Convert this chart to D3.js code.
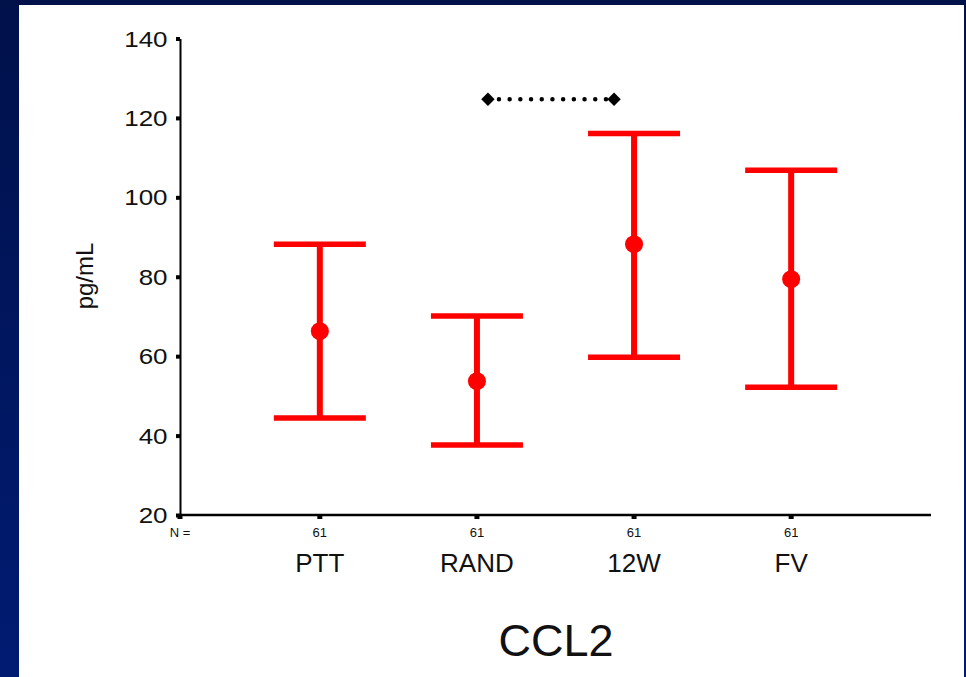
<!DOCTYPE html>
<html>
<head>
<meta charset="utf-8">
<script src="https://cdn.jsdelivr.net/npm/d3@7"></script>
<style>
  html, body { margin: 0; padding: 0; background: #001450; }
  svg { display: block; }
</style>
</head>
<body>
<script>
const categories = ["PTT", "RAND", "12W", "FV"];
const nValues = [61, 61, 61, 61];
const means = [66.3, 53.7, 88.2, 79.4];
const upper = [88.2, 70.1, 116.1, 106.8];
const lower = [44.4, 37.6, 59.7, 52.2];
const yTicks = [20, 40, 60, 80, 100, 120, 140];
const sigPair = ["RAND", "12W"];
const sigLevel = 124.7;
const yTitle = "pg/mL";
const chartTitle = "CCL2";

const W = 966, H = 677;
const svg = d3.select("body").append("svg").attr("width", W).attr("height", H);

const defs = svg.append("defs");
const grad = defs.append("linearGradient").attr("id", "bg").attr("x1", 0).attr("y1", 0).attr("x2", 0).attr("y2", 1);
grad.append("stop").attr("offset", "0%").attr("stop-color", "#00114a");
grad.append("stop").attr("offset", "100%").attr("stop-color", "#001b72");
svg.append("rect").attr("width", W).attr("height", H).attr("fill", "url(#bg)");
svg.append("rect").attr("x", 19).attr("y", 5).attr("width", 945).attr("height", H - 5).attr("fill", "#ffffff");

const x = d3.scalePoint().domain(categories).range([180, 931]).padding(0.89);
const y = d3.scaleLinear().domain([20, 140]).range([515, 38.5]);

const font = "Arial, 'Liberation Sans', sans-serif";

// Y axis
const yAxis = svg.append("g").attr("transform", "translate(180,0)")
  .call(d3.axisLeft(y).tickValues(yTicks).tickSize(4).tickSizeOuter(0).tickFormat(() => ""));
yAxis.select(".domain").attr("stroke", "#000").attr("stroke-width", 2);
yAxis.selectAll(".tick line").attr("stroke", "#000").attr("stroke-width", 4);
// tick labels (slightly wide, as in the reference)
svg.selectAll(".yl").data(yTicks).enter().append("text")
  .attr("transform", d => `translate(167.5,${y(d) + 8}) scale(1.18,1)`)
  .attr("text-anchor", "end").attr("font-family", font).attr("font-size", 22).attr("fill", "#111")
  .text(d => d);

// X axis line
svg.append("line").attr("x1", 180).attr("x2", 931).attr("y1", y(20)).attr("y2", y(20))
  .attr("stroke", "#000").attr("stroke-width", 2.5);
// x ticks
const xTickPos = [180].concat(categories.map(c => x(c)));
svg.selectAll(".xt").data(xTickPos).enter().append("rect")
  .attr("x", d => d - 2.5).attr("y", y(20)).attr("width", 5).attr("height", 4).attr("fill", "#000");

// N labels
svg.append("text").attr("x", 180).attr("y", 537).attr("text-anchor", "middle")
  .attr("font-family", font).attr("font-size", 13).attr("fill", "#111").text("N =");
svg.selectAll(".nl").data(categories).enter().append("text")
  .attr("x", c => x(c)).attr("y", 537).attr("text-anchor", "middle")
  .attr("font-family", font).attr("font-size", 13).attr("fill", "#111")
  .text((c, i) => nValues[i]);

// category labels
svg.selectAll(".cl").data(categories).enter().append("text")
  .attr("x", c => x(c)).attr("y", 572).attr("text-anchor", "middle")
  .attr("font-family", font).attr("font-size", 26).attr("fill", "#111").text(c => c);

// y title
svg.append("text").attr("transform", "translate(93,276) rotate(-90)")
  .attr("text-anchor", "middle").attr("font-family", font).attr("font-size", 24).attr("fill", "#111")
  .text(yTitle);

// chart title
svg.append("text").attr("x", 556).attr("y", 656).attr("text-anchor", "middle")
  .attr("font-family", font).attr("font-size", 45).attr("fill", "#111").text(chartTitle);

// error bars
const red = "#ff0000";
const g = svg.append("g");
categories.forEach((c, i) => {
  const cx = x(c);
  g.append("line").attr("x1", cx).attr("x2", cx).attr("y1", y(upper[i])).attr("y2", y(lower[i]))
    .attr("stroke", red).attr("stroke-width", 6);
  [upper[i], lower[i]].forEach(v => {
    g.append("line").attr("x1", cx - 46).attr("x2", cx + 46).attr("y1", y(v)).attr("y2", y(v))
      .attr("stroke", red).attr("stroke-width", 5.5);
  });
  g.append("circle").attr("cx", cx).attr("cy", y(means[i])).attr("r", 9).attr("fill", red);
});

// significance bracket
const sx1 = x(sigPair[0]) + 11, sx2 = x(sigPair[1]) - 20;
const sy = y(sigLevel);
svg.append("line").attr("x1", sx1 + 11).attr("x2", sx2 - 8).attr("y1", sy).attr("y2", sy)
  .attr("stroke", "#000").attr("stroke-width", 4.5).attr("stroke-linecap", "round")
  .attr("stroke-dasharray", "0 10.7");
[sx1, sx2].forEach(px => {
  svg.append("path").attr("d", d3.symbol().type(d3.symbolSquare).size(90)())
    .attr("transform", `translate(${px},${sy}) rotate(45)`).attr("fill", "#000");
});
</script>
</body>
</html>
